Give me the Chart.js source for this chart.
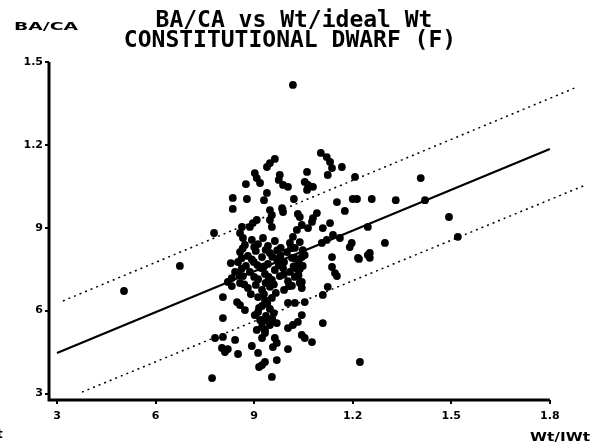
<!DOCTYPE html>
<html>
<head>
<meta charset="utf-8">
<script src="https://cdn.jsdelivr.net/npm/chart.js@4.4.1/dist/chart.umd.min.js"></script>
<style>
  html, body { margin: 0; padding: 0; background: #fff; }
  #wrap { width: 594px; height: 442px; }
</style>
</head>
<body>
<div id="wrap"><canvas id="grafico"></canvas></div>
<script>
// Wt / ideal Wt  vs  BA / CA
var wtRatio = [
  1.103, 1.121, 1.131, 1.137, 1.124, 1.167, 1.061, 0.963, 0.948, 0.939,
  0.902, 0.908, 0.918, 0.875, 0.978, 0.975, 0.988, 1.003, 1.054, 1.064,
  1.079, 1.061, 1.207, 1.407, 0.939, 0.930, 0.835, 0.835, 0.878, 1.021,
  1.152, 1.200, 1.213, 1.258, 1.331, 1.420, 1.176, 0.985, 0.988, 0.948,
  0.954, 0.948, 0.954, 1.033, 1.091, 1.079, 1.076, 1.039, 1.045, 1.064,
  1.131, 1.109, 0.908, 0.896, 0.887, 0.863, 0.857, 0.866, 0.778, 1.030,
  1.018, 1.009, 1.140, 1.161, 1.121, 1.106, 1.197, 1.191, 1.298, 1.246,
  1.493, 1.520, 1.018, 0.504, 0.674,
  0.872, 0.893, 0.912, 0.927, 0.942, 0.963, 0.981, 1.000, 1.024, 1.039,
  0.857, 0.881, 0.905, 0.924, 0.948, 0.969, 0.991, 1.015, 1.036, 1.054,
  0.851, 0.875, 0.899, 0.921, 0.942, 0.963, 0.988, 1.009, 1.030, 1.048,
  0.842, 0.866, 0.887, 0.912, 0.933, 0.954, 0.978, 1.003, 1.024, 1.045,
  0.857, 0.881, 0.905, 0.924, 0.948, 0.966, 0.991, 0.832, 0.820, 0.832,
  0.912, 0.933, 0.954, 0.924, 0.948, 0.912, 0.936, 0.960, 0.924, 0.948,
  0.908, 0.933, 0.969, 0.902, 0.918,
  0.829, 0.890, 0.805, 0.848, 0.857, 0.872, 1.006, 1.039, 1.045, 1.039,
  1.137, 1.137, 1.146, 1.152, 1.216, 1.246, 1.054, 1.003, 1.024, 1.109,
  1.124, 1.045, 1.033, 1.018, 1.003, 1.109, 0.805, 0.924, 0.933, 0.781,
  0.805, 0.802, 0.811, 0.820, 0.842, 0.851, 0.893, 0.924, 0.963, 0.969,
  0.957, 1.045, 1.054, 1.076, 1.003, 0.912, 0.969, 0.933, 0.924, 0.915,
  0.772, 0.954, 1.222, 1.048, 1.045, 1.219, 1.252, 1.252,
  0.865, 0.900, 0.935, 0.970, 1.012, 0.862, 0.893, 0.955, 0.980, 1.025,
  0.862, 0.910, 0.930, 0.975, 1.020, 0.855, 0.900, 0.944, 0.990, 1.035,
  0.870, 0.935, 0.960, 1.015, 0.930, 0.940, 0.915, 0.955, 0.935
]
var baCa = [
  1.171, 1.156, 1.138, 1.116, 1.091, 1.120, 1.102, 1.149, 1.134, 1.120,
  1.098, 1.080, 1.062, 1.058, 1.091, 1.073, 1.055, 1.048, 1.066, 1.055,
  1.048, 1.037, 1.084, 1.080, 1.026, 1.000, 1.008, 0.968, 1.004, 1.004,
  0.993, 1.004, 1.004, 1.004, 1.000, 1.000, 0.961, 0.971, 0.957, 0.964,
  0.946, 0.928, 0.903, 0.950, 0.953, 0.935, 0.921, 0.939, 0.910, 0.899,
  0.917, 0.899, 0.928, 0.917, 0.903, 0.903, 0.881, 0.863, 0.881, 0.892,
  0.867, 0.845, 0.874, 0.863, 0.856, 0.845, 0.845, 0.830, 0.845, 0.903,
  0.939, 0.867, 1.417, 0.671, 0.762,
  0.838, 0.856, 0.841, 0.863, 0.834, 0.852, 0.827, 0.812, 0.827, 0.848,
  0.812, 0.798, 0.816, 0.794, 0.809, 0.787, 0.776, 0.791, 0.776, 0.801,
  0.776, 0.762, 0.776, 0.754, 0.769, 0.747, 0.754, 0.740, 0.751, 0.762,
  0.740, 0.725, 0.740, 0.714, 0.733, 0.711, 0.725, 0.707, 0.722, 0.704,
  0.700, 0.682, 0.693, 0.675, 0.686, 0.664, 0.675, 0.718, 0.704, 0.689,
  0.649, 0.638, 0.646, 0.617, 0.606, 0.595, 0.581, 0.591, 0.559, 0.548,
  0.530, 0.519, 0.555, 0.584, 0.566,
  0.772, 0.660, 0.649, 0.631, 0.620, 0.602, 0.689, 0.700, 0.682, 0.751,
  0.794, 0.758, 0.736, 0.725, 0.791, 0.801, 0.631, 0.628, 0.628, 0.657,
  0.686, 0.584, 0.559, 0.548, 0.537, 0.555, 0.573, 0.541, 0.530, 0.501,
  0.505, 0.465, 0.450, 0.461, 0.494, 0.443, 0.472, 0.501, 0.501, 0.483,
  0.468, 0.512, 0.501, 0.486, 0.461, 0.447, 0.421, 0.414, 0.403, 0.396,
  0.356, 0.360, 0.414, 0.819, 0.794, 0.787, 0.809, 0.791,
  0.825, 0.830, 0.820, 0.818, 0.826, 0.790, 0.785, 0.795, 0.800, 0.788,
  0.752, 0.765, 0.760, 0.765, 0.760, 0.728, 0.722, 0.722, 0.730, 0.728,
  0.695, 0.700, 0.695, 0.690, 0.660, 0.625, 0.610, 0.570, 0.565
]

// regression line and the two dotted bands (end points)
var fitX = [0.300, 1.800]
var fitY = [0.447, 1.185]
var upperX = [0.318, 1.876]
var upperY = [0.635, 1.406]
var lowerX = [0.376, 1.909]
var lowerY = [0.305, 1.055]

var xTicks = [0.3, 0.6, 0.9, 1.2, 1.5, 1.8]
var yTicks = [0.3, 0.6, 0.9, 1.2, 1.5]

var titulo1 = 'BA/CA vs Wt/ideal Wt'
var titulo2 = 'CONSTITUTIONAL DWARF (F)'
var yTitulo = 'BA/CA'
var xTitulo = 'Wt/IWt'

var pares = (xs, ys) => xs.map((v, i) => ({ x: v, y: ys[i] }))

var etiqueta = (v) => v < 1 ? String(Math.round(v * 10)) : v.toFixed(1)

var fuenteTick = { family: 'DejaVu Sans', size: 11, weight: 'bold' }

var textoAncho = (ctx, txt, x, y, w) => {
  var m = ctx.measureText(txt).width
  ctx.save()
  ctx.translate(x, y)
  ctx.scale(w / m, 1)
  ctx.fillText(txt, 0, 0)
  ctx.restore()
}

var extras = {
  id: 'extras',
  afterDraw: (chart) => {
    var ctx = chart.ctx
    var area = chart.chartArea
    var sx = chart.scales.x
    ctx.save()
    ctx.strokeStyle = '#000'
    ctx.lineWidth = 3
    ctx.beginPath()
    ctx.moveTo(area.left, area.top)
    ctx.lineTo(area.left, area.bottom)
    ctx.lineTo(sx.getPixelForValue(1.8), area.bottom)
    ctx.stroke()

    ctx.fillStyle = '#000'
    ctx.textBaseline = 'alphabetic'
    ctx.textAlign = 'center'
    ctx.font = 'bold 23px "DejaVu Sans Mono"'
    ctx.fillText(titulo1, 294, 27)
    ctx.fillText(titulo2, 290, 47)

    ctx.textAlign = 'left'
    ctx.font = 'bold 11px "DejaVu Sans"'
    textoAncho(ctx, yTitulo, 14, 30, 64)
    ctx.font = 'bold 12px "DejaVu Sans"'
    textoAncho(ctx, xTitulo, 530, 441, 60)
    ctx.fillText('t', -3, 438)
    ctx.restore()
  }
}

new Chart(document.getElementById('grafico'), {
  type: 'scatter',
  data: {
    datasets: [
      {
        data: pares(wtRatio, baCa),
        backgroundColor: '#000',
        borderWidth: 0,
        pointRadius: 3.9
      },
      {
        data: pares(fitX, fitY),
        showLine: true,
        borderColor: '#000',
        borderWidth: 2.2,
        pointRadius: 0
      },
      {
        data: pares(upperX, upperY),
        showLine: true,
        borderColor: '#000',
        borderWidth: 1.5,
        borderDash: [2, 4],
        pointRadius: 0
      },
      {
        data: pares(lowerX, lowerY),
        showLine: true,
        borderColor: '#000',
        borderWidth: 1.5,
        borderDash: [2, 4],
        pointRadius: 0
      }
    ]
  },
  options: {
    responsive: true,
    maintainAspectRatio: false,
    animation: false,
    layout: { padding: { top: 62, left: 0, right: 8, bottom: 0 } },
    plugins: {
      legend: { display: false },
      tooltip: { enabled: false },
      title: { display: false }
    },
    scales: {
      x: {
        type: 'linear',
        min: 0.2757,
        max: 1.91,
        afterBuildTicks: (s) => { s.ticks = xTicks.map((v) => ({ value: v })) },
        afterFit: (s) => { s.height = 42 },
        border: { display: false },
        grid: { drawOnChartArea: false, color: '#000', lineWidth: 2, tickLength: 4 },
        ticks: { callback: etiqueta, font: fuenteTick, color: '#000', padding: 6, maxRotation: 0, autoSkip: false }
      },
      y: {
        min: 0.2765,
        max: 1.5,
        afterBuildTicks: (s) => { s.ticks = yTicks.map((v) => ({ value: v })) },
        afterFit: (s) => { s.width = 49 },
        border: { display: false },
        grid: { drawOnChartArea: false, color: '#000', lineWidth: 2, tickLength: 4 },
        ticks: { callback: etiqueta, font: fuenteTick, color: '#000', padding: 2, autoSkip: false }
      }
    }
  },
  plugins: [extras]
})
</script>
</body>
</html>
